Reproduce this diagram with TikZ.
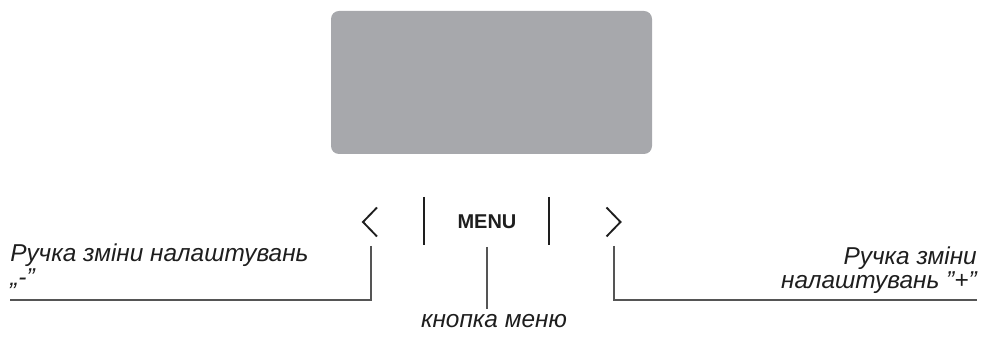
\documentclass[tikz,border=0pt]{standalone}
\usepackage{fontspec}
\setmainfont{Liberation Sans}
\usepackage{xcolor}
\definecolor{panel}{RGB}{167,168,172}
\definecolor{leadgray}{RGB}{85,85,85}
\definecolor{ink}{RGB}{30,30,30}
\usetikzlibrary{positioning,calc}
\tikzset{
  screen/.style={fill=panel,rounded corners=6pt,inner sep=0pt,%
    minimum width=240.75pt,minimum height=107.25pt},
  menubtn/.style={font=\fontsize{15}{15}\selectfont\bfseries,text=ink,inner sep=0pt},
  lbl/.style={font=\fontsize{18.3}{18.5}\selectfont\itshape,text=ink,inner sep=0pt},
  sep/.style={draw=ink,line width=1.1pt},
  chev/.style={draw=ink,line width=1.4pt},
  leader/.style={draw=leadgray,line width=0.8pt},
}
\begin{document}
\begin{tikzpicture}[x=0.75pt,y=-0.75pt]
\useasboundingbox (0,0) rectangle (983,348);
% display
\node[screen] (disp) at (491.5,82.5) {};
% buttons
\node[menubtn] (menu) at (487,222) {MENU};
\coordinate (prev) at (370,222);
\coordinate (next) at (613.5,222);
\draw[sep] (424,197) -- (424,245);
\draw[sep] (549,197) -- (549,245);
\draw[chev] ($(prev)+(7,-14.5)$) -- ($(prev)+(-7,0)$) -- ($(prev)+(7,14.5)$);
\draw[chev] ($(next)+(-7,-14.5)$) -- ($(next)+(7,0)$) -- ($(next)+(-7,14.5)$);
% labels
\node[lbl,align=left,anchor=base west] (minus) at (10,286) {Ручка зміни налаштувань\\„-”};
\node[lbl,align=right,anchor=base east] (plus) at (977,289) {Ручка зміни\\налаштувань ”+”};
\node[lbl,anchor=base,inner sep=4pt] (hint) at (494,328) {кнопка меню};
\coordinate (minusend) at (10,300);
\coordinate (plusend) at (977,300);
\coordinate (prevfoot) at (371,246);
\coordinate (nextfoot) at (614,246);
\coordinate (menufoot) at (487,247);
% leaders
\draw[leader] (prevfoot) |- (minusend);
\draw[leader] (nextfoot) |- (plusend);
\draw[leader] (menufoot) -- (menufoot |- hint.north);
\end{tikzpicture}
\end{document}
